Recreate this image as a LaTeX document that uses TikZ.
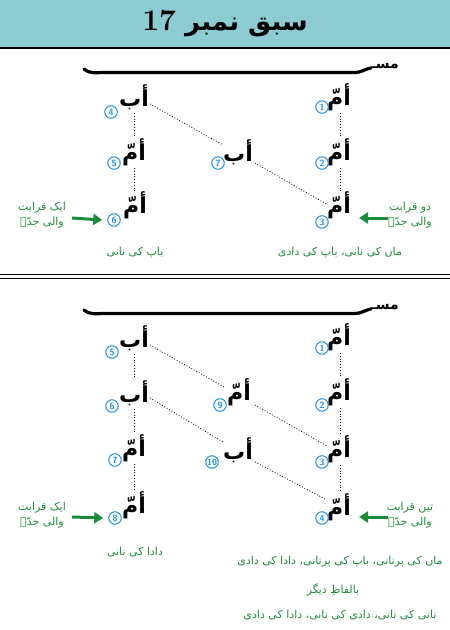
\documentclass[tikz,border=0pt]{standalone}
\usepackage{fontspec}
\usepackage{tikz}
\usepackage{xcolor}
\usetikzlibrary{arrows.meta}
\TeXXeTstate=1
\newfontfamily\urdu[Script=Arabic]{DejaVu Sans}
\definecolor{bandblue}{HTML}{8ECCD3}
\definecolor{relgreen}{HTML}{1E8B3C}
\definecolor{numblue}{HTML}{1E8FE0}

\begin{document}
\begin{tikzpicture}[x=1pt, y=-1pt, every node/.style={inner sep=0pt},
  word/.style={font=\urdu\bfseries\fontsize{22}{24}\selectfont},
  num/.style={draw=numblue, text=numblue, circle, line width=1pt, minimum size=12.5pt, font=\sffamily\bfseries\fontsize{9}{9}\selectfont},
  note/.style={text=relgreen, font=\urdu\fontsize{11}{15}\selectfont, align=center},
  link/.style={dotted, line width=0.8pt},
  rel/.style={-{Triangle[length=9pt,width=11pt]}, relgreen, line width=3pt},
  swash/.style={line width=3.2pt, line cap=round}]
  \useasboundingbox (0,0) rectangle (450,630);

  % title band
  \fill[bandblue] (0,0) rectangle (450,47);
  \draw[line width=2pt] (0,48) -- (450,48);
  \node (title) at (225,24) [font=\urdu\bfseries\fontsize{26}{28}\selectfont] {\beginR سبق نمبر \beginL{\rmfamily\bfseries\fontsize{30}{30}\selectfont 17}\endL\endR};

  % ---- upper chart ----
  \node (mas1) at (399,68) [anchor=base east, font=\urdu\bfseries\fontsize{14}{14}\selectfont] {\beginR مسـ\endR};
  \draw[swash] (84,69) to[out=-40,in=180] (104,72.5) -- (355,72.5) to[out=0,in=-170] (mas1.base west);

  \node[word] (r1) at (339,97)  {\beginR أمّ\endR};
  \node[word] (r2) at (339,152) {\beginR أمّ\endR};
  \node[word] (r3) at (339,205) {\beginR أمّ\endR};
  \node[word] (l4) at (134,97)  {\beginR أب\endR};
  \node[word] (l5) at (134,152) {\beginR أمّ\endR};
  \node[word] (l6) at (135,205) {\beginR أمّ\endR};
  \node[word] (m7) at (238,152) {\beginR أب\endR};

  \node[num] (n1) at (322,107) {1};
  \node[num] (n2) at (322,163) {2};
  \node[num] (n3) at (322,222) {3};
  \node[num] (n4) at (111,112) {4};
  \node[num] (n5) at (114,163) {5};
  \node[num] (n6) at (114,220) {6};
  \node[num] (n7) at (218,163) {7};

  \draw[link] ([shift={(1,16)}]r1.center) -- ([shift={(1,-14)}]r2.center);
  \draw[link] ([shift={(1,16)}]r2.center) -- ([shift={(1,-14)}]r3.center);
  \draw[link] ([shift={(0,16)}]l4.center) -- ([shift={(0,-14)}]l5.center);
  \draw[link] ([shift={(0,16)}]l5.center) -- ([shift={(-1,-14)}]l6.center);
  \draw[link] ([shift={(16,7)}]l4.center) -- ([shift={(-15,-7)}]m7.center);
  \draw[link] ([shift={(17,11)}]m7.center) -- ([shift={(-11,0)}]r3.center);

  \coordinate (a1) at (72,218);
  \coordinate (a2) at (388,218);
  \draw[rel] (a1) -- ([xshift=-5pt]n6.west);
  \draw[rel] (a2) -- ([xshift=8pt]r3.east |- a2);

  \node[note] (t1) at (42,215)  {\beginR ایک قرابت\endR\\\beginR والی جدّہ\endR};
  \node[note] (t2) at (410,215) {\beginR دو قرابت\endR\\\beginR والی جدّہ\endR};
  \node[note] (t3) at (135,253) {\beginR باپ کی نانی\endR};
  \node[note] (t4) at (340,253) {\beginR ماں کی نانی، باپ کی دادی\endR};

  % separator
  \draw[line width=1.6pt] (0,274.5) -- (450,274.5);
  \draw[line width=1.6pt] (0,278.5) -- (450,278.5);

  % ---- lower chart ----
  \node (mas2) at (399,309) [anchor=base east, font=\urdu\bfseries\fontsize{14}{14}\selectfont] {\beginR مسـ\endR};
  \draw[swash] (84,310) to[out=-40,in=180] (104,313.5) -- (355,313.5) to[out=0,in=-170] (mas2.base west);

  \node[word] (s1) at (339,337) {\beginR أمّ\endR};
  \node[word] (s2) at (339,392) {\beginR أمّ\endR};
  \node[word] (s3) at (339,449) {\beginR أمّ\endR};
  \node[word] (s4) at (339,507) {\beginR أمّ\endR};
  \node[word] (k5) at (134,338) {\beginR أب\endR};
  \node[word] (k6) at (134,393) {\beginR أب\endR};
  \node[word] (k7) at (134,448) {\beginR أمّ\endR};
  \node[word] (k8) at (134,505) {\beginR أمّ\endR};
  \node[word] (m9) at (239,392) {\beginR أمّ\endR};
  \node[word] (m10) at (238,450) {\beginR أب\endR};

  \node[num] (p1) at (322,348) {1};
  \node[num] (p2) at (322,405) {2};
  \node[num] (p3) at (322,462) {3};
  \node[num] (p4) at (322,518) {4};
  \node[num] (p5) at (112,352) {5};
  \node[num] (p6) at (112,406) {6};
  \node[num] (p7) at (115,460) {7};
  \node[num] (p8) at (115,518) {8};
  \node[num] (p9) at (220,405) {9};
  \node[num] (p10) at (212,462) {10};

  \draw[link] ([shift={(1,16)}]s1.center) -- ([shift={(1,-14)}]s2.center);
  \draw[link] ([shift={(1,16)}]s2.center) -- ([shift={(1,-14)}]s3.center);
  \draw[link] ([shift={(1,16)}]s3.center) -- ([shift={(1,-14)}]s4.center);
  \draw[link] ([shift={(0,16)}]k5.center) -- ([shift={(0,-14)}]k6.center);
  \draw[link] ([shift={(0,16)}]k6.center) -- ([shift={(0,-14)}]k7.center);
  \draw[link] ([shift={(0,16)}]k7.center) -- ([shift={(0,-14)}]k8.center);
  \draw[link] ([shift={(16,7)}]k5.center) -- ([shift={(-15,-5)}]m9.center);
  \draw[link] ([shift={(16,13)}]m9.center) -- ([shift={(-12,-3)}]s3.center);
  \draw[link] ([shift={(16,5)}]k6.center) -- ([shift={(-15,-8)}]m10.center);
  \draw[link] ([shift={(17,12)}]m10.center) -- ([shift={(-12,-7)}]s4.center);

  \coordinate (a3) at (72,517);
  \coordinate (a4) at (388,517);
  \draw[rel] (a3) -- ([xshift=-5pt]p8.west);
  \draw[rel] (a4) -- ([xshift=8pt]s4.east |- a4);

  \node[note] (t5) at (42,515)  {\beginR ایک قرابت\endR\\\beginR والی جدّہ\endR};
  \node[note] (t6) at (410,515) {\beginR تین قرابت\endR\\\beginR والی جدّہ\endR};
  \node[note] (t7) at (135,552) {\beginR دادا کی نانی\endR};
  \node[note] (t8) at (340,562) {\beginR ماں کی پرنانی، باپ کی پرنانی، دادا کی دادی\endR};
  \node[note] (t9) at (333,590) {\beginR بالفاظِ دیگر\endR};
  \node[note] (t10) at (340,615) {\beginR نانی کی نانی، دادی کی نانی، دادا کی دادی\endR};
\end{tikzpicture}
\end{document}
